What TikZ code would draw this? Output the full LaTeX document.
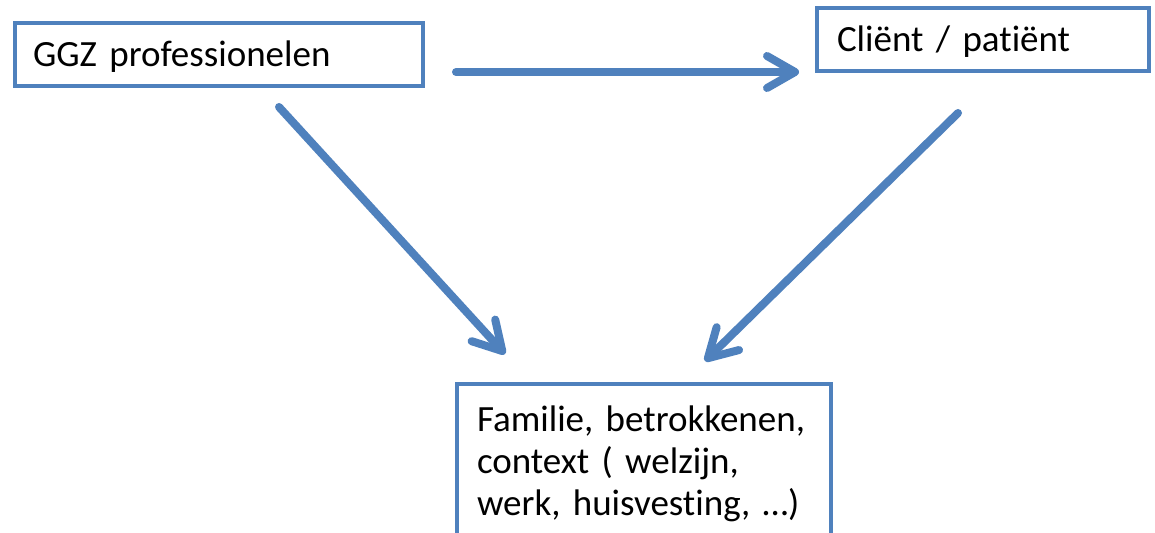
\documentclass[tikz,border=0pt]{standalone}
\usepackage{fontspec}
\setmainfont[Ligatures=NoCommon]{Carlito}
\usepackage{tikz}
\usetikzlibrary{calc,arrows.meta}
\definecolor{accent}{HTML}{4F81BD}
\definecolor{ink}{HTML}{000000}
\tikzset{
  box/.style={draw=accent, line width=2pt, rectangle, align=left, inner xsep=9pt, inner ysep=0pt,
    minimum height=31.5pt, text=ink, font=\fontsize{18.5}{21}\selectfont},
  onerow/.style={text height=15pt, text depth=2.5pt},
  conn/.style={draw=accent, line width=4pt, line cap=round, line join=round,
    -{Straight Barb[length=14pt,width=16pt,round]}},
}

\begin{document}
\begin{tikzpicture}[x=0.5pt,y=-0.5pt]
  \clip (0,0) rectangle (1155,533);
  \fill[white] (0,0) rectangle (1155,533);
  \node[box, onerow, text width=186pt] (ggz) at (219,54.5) {GGZ professionelen};
  \node[box, onerow, text width=146pt, inner xsep=10pt] (client) at (983,39.5) {Cliënt / patiënt};
  \node[box, text width=167pt, inner xsep=10pt, inner ysep=11pt, anchor=north] (context) at (644,382)
    {Familie, betrokkenen,\\ context ( welzijn,\\ werk, huisvesting, …)};
  \draw[conn] ($(ggz.east)+(31,17.5)$) -- ($(client.west)+(-16,32.5)$);
  \draw[conn] ($(ggz.south)+(60,19)$) -- ($(context.north)+(-139,-28)$);
  \draw[conn] ($(client.south)+(-25,40)$) -- ($(context.north)+(61,-21)$);
\end{tikzpicture}
\end{document}
